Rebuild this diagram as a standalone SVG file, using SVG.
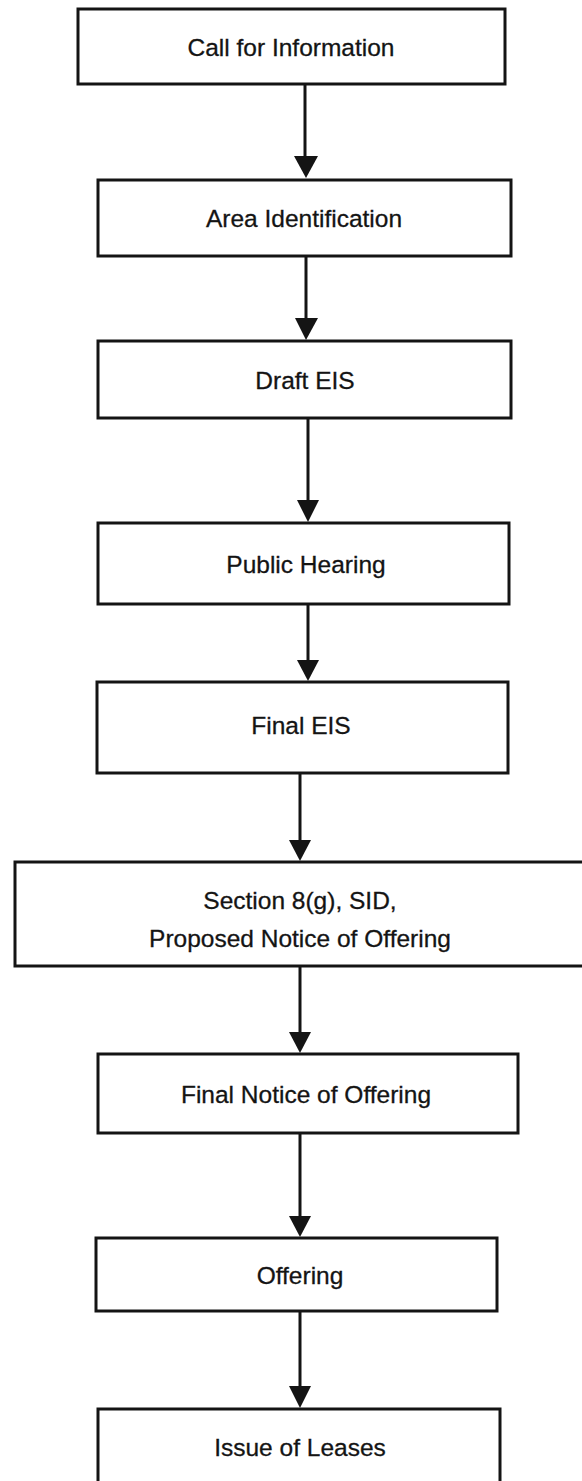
<svg xmlns="http://www.w3.org/2000/svg" width="582" height="1481" viewBox="0 0 582 1481">
<style>
.box{fill:#fff;stroke:#141414;stroke-width:3}
.lbl{font-family:"Liberation Sans",Arial,sans-serif;font-size:24.5px;fill:#141414;text-anchor:middle;stroke:#141414;stroke-width:0.3}
.con{stroke:#141414;stroke-width:3;fill:none}
.head{fill:#141414}
</style>
<rect width="582" height="1481" fill="#fff"/>
<g id="n1"><rect class="box" x="78" y="9" width="427" height="75"/><text class="lbl" x="291" y="56">Call for Information</text></g>
<g id="n2"><rect class="box" x="98" y="180" width="413" height="76"/><text class="lbl" x="304" y="227">Area Identification</text></g>
<g id="n3"><rect class="box" x="98" y="341" width="413" height="77"/><text class="lbl" x="305" y="389">Draft EIS</text></g>
<g id="n4"><rect class="box" x="98" y="523" width="411" height="81"/><text class="lbl" x="306" y="573">Public Hearing</text></g>
<g id="n5"><rect class="box" x="97" y="682" width="411" height="91"/><text class="lbl" x="301" y="734">Final EIS</text></g>
<g id="n6"><rect class="box" x="15" y="862" width="580" height="104"/><text class="lbl" x="300" y="909">Section 8(g), SID,</text><text class="lbl" x="300" y="947">Proposed Notice of Offering</text></g>
<g id="n7"><rect class="box" x="98" y="1054" width="420" height="79"/><text class="lbl" x="306" y="1103">Final Notice of Offering</text></g>
<g id="n8"><rect class="box" x="96" y="1238" width="401" height="73"/><text class="lbl" x="300" y="1284">Offering</text></g>
<g id="n9"><rect class="box" x="98" y="1409" width="402" height="80"/><text class="lbl" x="300" y="1456">Issue of Leases</text></g>
<g id="connectors">
<path class="con" d="M305 84V158"/><polygon class="head" points="294,156 318,156 306,178"/>
<path class="con" d="M306 256V320"/><polygon class="head" points="295,318 318,318 306,340"/>
<path class="con" d="M308 418V502"/><polygon class="head" points="297,500 319,500 308,522"/>
<path class="con" d="M308 604V662"/><polygon class="head" points="297,660 319,660 308,681"/>
<path class="con" d="M300 773V842"/><polygon class="head" points="289,840 311,840 300,861"/>
<path class="con" d="M300 966V1034"/><polygon class="head" points="289,1032 311,1032 300,1053"/>
<path class="con" d="M300 1133V1218"/><polygon class="head" points="289,1216 311,1216 300,1237"/>
<path class="con" d="M300 1311V1388"/><polygon class="head" points="289,1386 311,1386 300,1408"/>
</g>
</svg>
